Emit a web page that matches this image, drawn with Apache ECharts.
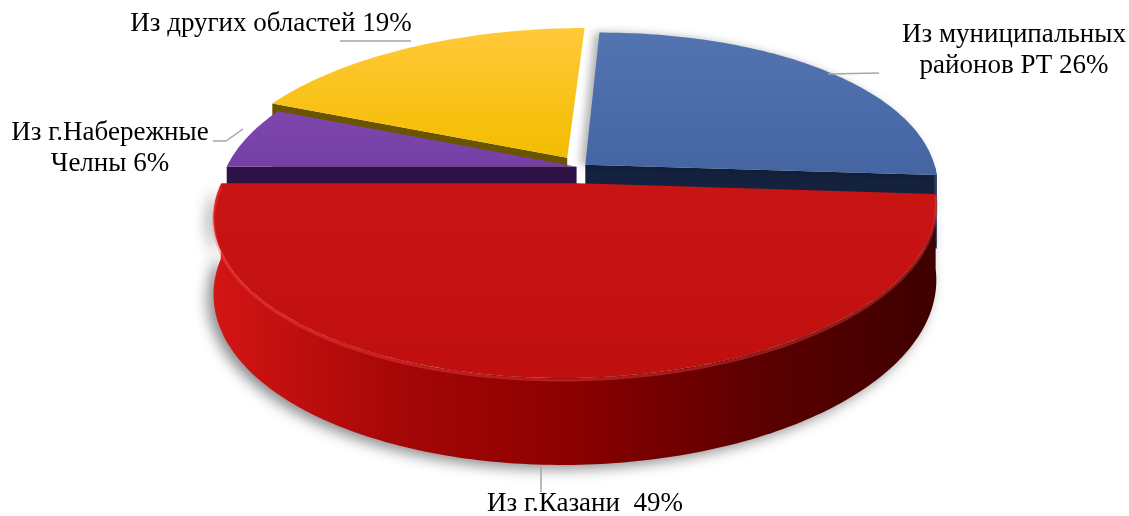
<!DOCTYPE html>
<html>
<head>
<meta charset="utf-8">
<script src="https://cdn.jsdelivr.net/npm/echarts@6/dist/echarts.min.js"></script>
<style>
    html, body { margin: 0; background: #fff; }
    #chart { width: 1129px; height: 516px; }
</style>
</head>
<body>
<div id="chart"></div>
<script>
// data, clockwise from 12 o'clock
const categories = ['Из муниципальных\nрайонов РТ', 'Из г.Казани ', 'Из г.Набережные\nЧелны', 'Из других областей'];
const shares = [26, 49, 6, 19];

// 3d look: ellipse radii, perspective, depth of the disc
const CX = 580, CY = 167, RX = 350, RY = 161, PERSP = 0.174, SKEW = -15, DEPTH = 73;
const explode = [0.02, 0.1, 0.01, 0.07];
const drawOrder = [1, 3, 2, 0];

const looks = [
    { top: ['#5274b1', '#4465a2'], cut: '#14223f', side: ['#2f4a80', '#1d2f55'], shadow: true },
    { top: ['#c91414', '#c00f0f'], cut: '#5e0000', side: ['#d31515', '#a70707', '#8a0000', '#5c0000', '#3f0000'] },
    { top: ['#7e46ac', '#7540a6'], cut: '#2d1346', side: ['#4a2470', '#2d1346'] },
    { top: ['#ffc93a', '#f3bd00'], cut: '#6b5400', side: ['#8a6d00', '#5c4800'] }
];

const labelPos = [
    { x: 1014, y: 50, line: [[828, 74], [879, 73]] },
    { x: 585, y: 504, line: [[541, 466], [541, 492]] },
    { x: 110, y: 148, line: [[213, 141], [226, 141], [243, 129]] },
    { x: 271, y: 24, line: [[340, 41], [411, 41]] }
];

const total = shares.reduce((s, v) => s + v, 0);
const rad = Math.PI / 180;

function proj(u, v, down) {
    const s = 1 + PERSP * v;
    return [CX + RX * u * s + SKEW * v, CY + RY * v * s + (down ? DEPTH * s : 0)];
}

function stops(list) {
    return list.map((c, k) => ({ offset: list.length === 1 ? 0 : k / (list.length - 1), color: c }));
}

function renderItem(params, api) {
    const i = params.dataIndex;
    let before = 0;
    for (let j = 0; j < i; j++) before += shares[j];
    const t1 = before / total * 360;
    const t2 = (before + api.value(0)) / total * 360;
    const mid = (t1 + t2) / 2 * rad;
    const ou = explode[i] * Math.sin(mid), ov = -explode[i] * Math.cos(mid);
    const rim = t => [ou + Math.sin(t * rad), ov - Math.cos(t * rad)];
    const look = looks[i];
    const z = drawOrder[i] * 10;
    const children = [];

    const cutFace = t => {
        const r = rim(t);
        children.push({
            type: 'polygon', z2: z + 1,
            shape: { points: [proj(ou, ov), proj(r[0], r[1]), proj(r[0], r[1], true), proj(ou, ov, true)] },
            style: { fill: look.cut }
        });
    };
    if (-Math.sin(t1 * rad) > 0.01) cutFace(t1);
    if (Math.sin(t2 * rad) > 0.01) cutFace(t2);

    // outer wall, only the front half can be seen
    const lo = Math.max(t1, 90), hi = Math.min(t2, 270);
    if (hi > lo) {
        const up = [], dn = [];
        for (let t = lo; t <= hi + 0.001; t += Math.min(1, hi - lo)) {
            const r = rim(t);
            up.push(proj(r[0], r[1]));
            dn.unshift(proj(r[0], r[1], true));
        }
        children.push({
            type: 'polygon', z2: z + 2,
            shape: { points: up.concat(dn) },
            style: {
                fill: new echarts.graphic.LinearGradient(0, 0, 1, 0, stops(look.side)),
                shadowColor: 'rgba(0,0,0,0.45)', shadowBlur: 14, shadowOffsetX: -6, shadowOffsetY: 4
            }
        });
        if (hi - lo > 20) {
            children.push({
                type: 'polyline', z2: z + 4,
                shape: { points: up.map(p => [p[0], p[1] + 2]) },
                style: { stroke: 'rgba(255,80,80,0.35)', lineWidth: 3, fill: null }
            });
        }
    }

    // top face
    const topPts = [proj(ou, ov)];
    for (let t = t1; t <= t2 + 0.001; t += (t2 - t1) / Math.ceil(t2 - t1)) {
        const r = rim(t);
        topPts.push(proj(r[0], r[1]));
    }
    const topStyle = { fill: new echarts.graphic.LinearGradient(0, 0, 0, 1, stops(look.top)) };
    if (look.shadow) {
        topStyle.shadowColor = 'rgba(0,0,0,0.3)';
        topStyle.shadowBlur = 8;
        topStyle.shadowOffsetX = -5;
    }
    children.push({ type: 'polygon', z2: z + 3, shape: { points: topPts }, style: topStyle });

    // label and leader
    const lp = labelPos[i];
    children.push({
        type: 'polyline', z2: 90,
        shape: { points: lp.line },
        style: { stroke: '#a6a6a6', lineWidth: 1.5, fill: null }
    });
    children.push({
        type: 'text', z2: 100,
        x: lp.x, y: lp.y,
        style: {
            text: categories[i] + ' ' + api.value(0) + '%',
            fill: '#000',
            font: '27px "Liberation Serif"',
            align: 'center', verticalAlign: 'middle',
            lineHeight: 31
        }
    });

    return { type: 'group', children: children };
}

const chart = echarts.init(document.getElementById('chart'));
chart.setOption({
    animation: false,
    backgroundColor: '#fff',
    series: [{
        type: 'custom',
        coordinateSystem: 'none',
        renderItem: renderItem,
        data: shares
    }]
});
</script>
</body>
</html>
